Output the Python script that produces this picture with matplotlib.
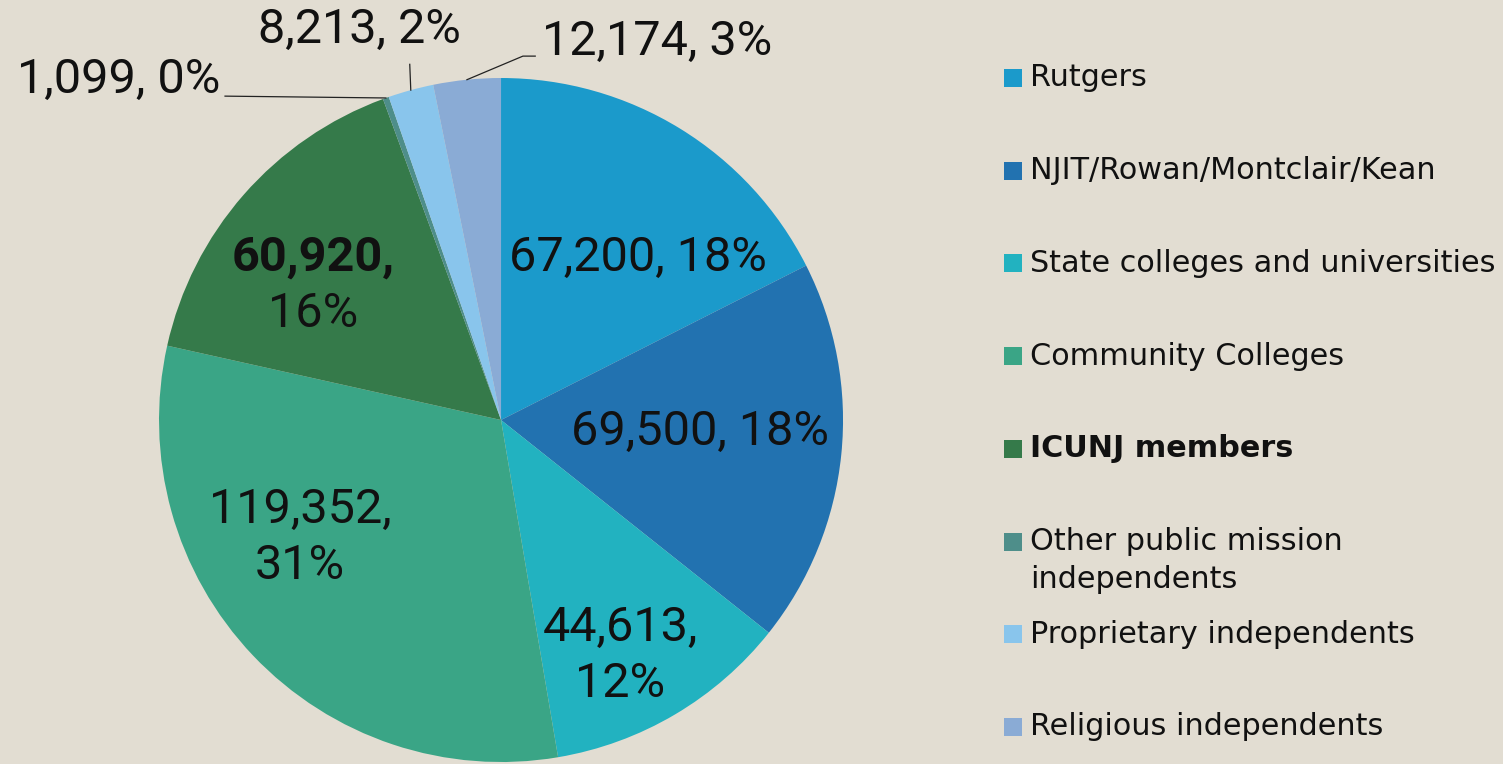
import matplotlib
matplotlib.use("Agg")
import matplotlib.pyplot as plt
from matplotlib.patches import Rectangle
import numpy as np

categories = ["Rutgers", "NJIT/Rowan/Montclair/Kean", "State colleges and universities",
              "Community Colleges", "ICUNJ members", "Other public mission\nindependents",
              "Proprietary independents", "Religious independents"]
values = [67200, 69500, 44613, 119352, 60920, 1099, 8213, 12174]
percents = ["18%", "18%", "12%", "31%", "16%", "0%", "2%", "3%"]
colors = ["#1B9ACB", "#2272B0", "#22B2C0", "#3AA586", "#357A4A", "#4E8E8A", "#89C5EC", "#8AABD5"]

BG = "#E2DDD2"
LABEL_FONT = ["Roboto", "DejaVu Sans"]
LEG_FONT = ["DejaVu Sans"]

fig = plt.figure(figsize=(15.03, 7.64), dpi=100, facecolor=BG)
ax = fig.add_axes([0.1058, 0.0026, 0.4551, 0.8953])
ax.set_facecolor(BG)
wedges, _ = ax.pie(values, colors=colors, startangle=90, counterclock=False, radius=1.0,
                   wedgeprops=dict(linewidth=0))
ax.set_xlim(-1, 1)
ax.set_ylim(-1, 1)
ax.set_aspect("equal")
ax.axis("off")

def fmt(v):
    return f"{v:,}"

fs = 35
TXT = "#111111"
# inner labels (positions in pie-radius units)
inner_pos = {0: (0.40, 0.474, False), 1: (0.582, -0.035, False), 2: (0.348, -0.687, True),
             3: (-0.588, -0.342, True), 4: (-0.550, 0.395, True)}
for i, (x, y, two) in inner_pos.items():
    if not two:
        ax.text(x, y, f"{fmt(values[i])}, {percents[i]}", ha="center", va="center",
                fontsize=fs, family=LABEL_FONT, color=TXT)
    else:
        ax.text(x, y + 0.08, f"{fmt(values[i])},", ha="center", va="center", fontsize=fs,
                family=LABEL_FONT, color=TXT,
                fontweight="bold" if i == 4 else "normal")
        ax.text(x, y - 0.085, percents[i], ha="center", va="center", fontsize=fs,
                family=LABEL_FONT, color=TXT)

# outer labels with leader lines
def edge_point(w):
    ang = np.deg2rad((w.theta1 + w.theta2) / 2)
    return np.cos(ang), np.sin(ang)

# Other public mission
ex, ey = edge_point(wedges[5])
ax.plot([ex, -0.807], [ey, 0.947], color="#222222", lw=0.9, clip_on=False)
ax.text(-0.82, 0.993, f"{fmt(values[5])}, {percents[5]}", ha="right", va="center",
        fontsize=fs, family=LABEL_FONT, color=TXT)
# Proprietary
ex, ey = edge_point(wedges[6])
ax.plot([ex, ex - 0.003], [ey, 1.04], color="#222222", lw=0.9, clip_on=False)
ax.text(-0.415, 1.14, f"{fmt(values[6])}, {percents[6]}", ha="center", va="center",
        fontsize=fs, family=LABEL_FONT, color=TXT)
# Religious
ex, ey = edge_point(wedges[7])
ax.plot([ex, 0.064, 0.10], [ey, 1.064, 1.064], color="#222222", lw=0.9, clip_on=False)
ax.text(0.12, 1.105, f"{fmt(values[7])}, {percents[7]}", ha="left", va="center",
        fontsize=fs, family=LABEL_FONT, color=TXT)

# legend (manual)
W, H = 1503, 764
step = 92.7
y0 = 78
sq = 18
for i, (cat, col) in enumerate(zip(categories, colors)):
    yc = y0 + step * i
    fig.patches.append(Rectangle(((1004) / W, (H - yc - sq / 2) / H), sq / W, sq / H,
                                 transform=fig.transFigure, facecolor=col, edgecolor="none"))
    lines = cat.split("\n")
    for k, line in enumerate(lines):
        fig.text(1030 / W, (H - yc - 38 * k) / H, line, ha="left", va="center",
                 fontsize=21.8, family=LEG_FONT, color=TXT,
                 fontweight="bold" if i == 4 else "normal")

fig.savefig("out.png", dpi=100, facecolor=BG)
